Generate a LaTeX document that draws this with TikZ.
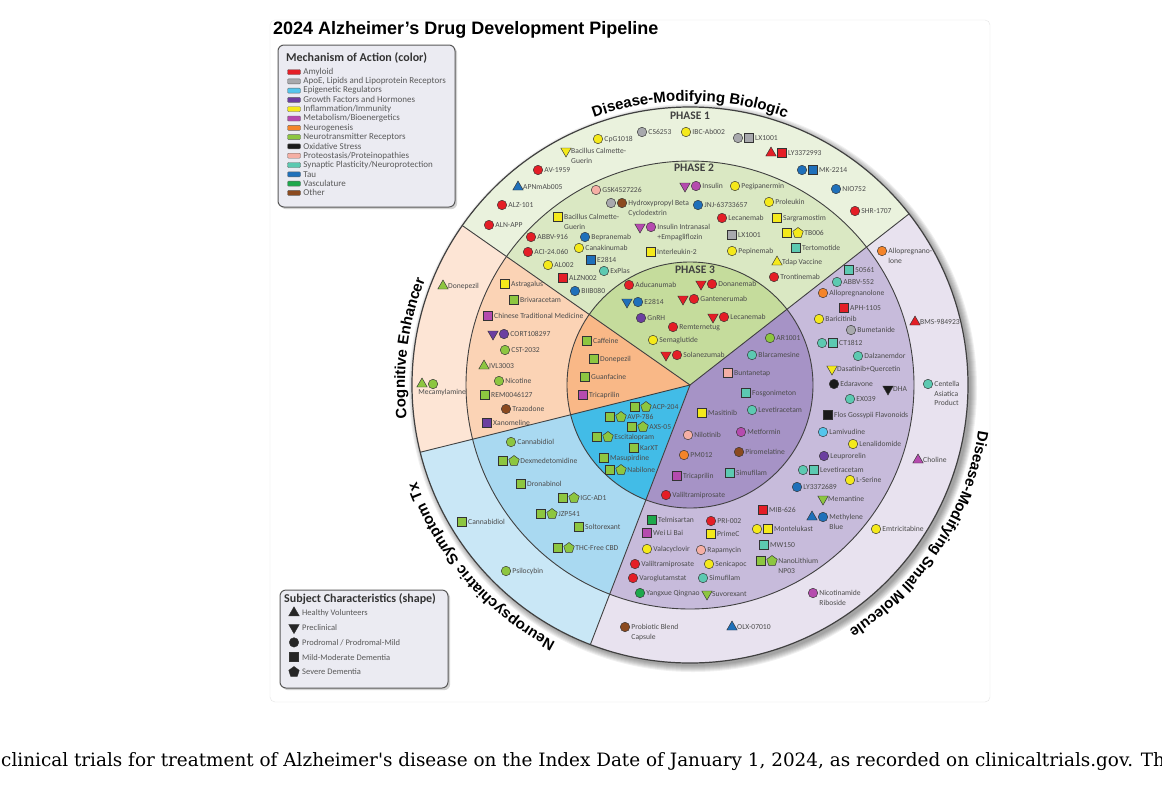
\documentclass[tikz,border=0pt]{standalone}
\usepackage{fontspec}
\setsansfont{Carlito}
\newfontfamily\headfont{Liberation Sans}
\newfontfamily\capfont{DejaVu Serif}
\usetikzlibrary{positioning,calc,shapes.geometric,shadows,decorations.text}

\definecolor{amy}{HTML}{E41E26}
\definecolor{apo}{HTML}{A8A9AD}
\definecolor{epi}{HTML}{54C5EC}
\definecolor{gro}{HTML}{6B3FA0}
\definecolor{inf}{HTML}{F4E91B}
\definecolor{met}{HTML}{B54BAE}
\definecolor{neu}{HTML}{F4842A}
\definecolor{ntr}{HTML}{8DC640}
\definecolor{oxi}{HTML}{1A1A1A}
\definecolor{pro}{HTML}{F5AFA5}
\definecolor{syn}{HTML}{5CC9B1}
\definecolor{tau}{HTML}{1F70BA}
\definecolor{vas}{HTML}{1EA84C}
\definecolor{oth}{HTML}{8B4A1F}
\definecolor{g1}{HTML}{C5DC9C}
\definecolor{g2}{HTML}{DAE8C3}
\definecolor{g3}{HTML}{EAF2DD}
\definecolor{o1}{HTML}{F9B887}
\definecolor{o2}{HTML}{FBD3B5}
\definecolor{o3}{HTML}{FDE5D5}
\definecolor{b1}{HTML}{42BCE7}
\definecolor{b2}{HTML}{A9D9F1}
\definecolor{b3}{HTML}{C9E7F6}
\definecolor{p1}{HTML}{A693C6}
\definecolor{p2}{HTML}{C7BBDB}
\definecolor{p3}{HTML}{E8E2EF}
\definecolor{legbg}{HTML}{EBEBF2}

\newcommand{\lblines}[1]{\begin{tabular}[t]{@{}l@{}}#1\end{tabular}}
\newcommand{\drug}[5]{%
  \foreach \mkshape/\mkcol [count=\idx] in {#4}{%
    \node[\mkshape=\mkcol] (#1-\idx) at (#2+11*\idx-11,#3) {};
    \xdef\lastmk{#1-\idx}}%
  \node[lab] (#1) at ([xshift=.8pt,yshift=-2.6pt]\lastmk.east) {#5};}

\begin{document}
\begin{tikzpicture}[
	x=1pt, y=-1pt,
	mk/.style={draw=black!80, line width=.45pt, inner sep=0pt, fill=#1},
	mdot/.style={mk=#1, circle, minimum size=9.5pt},
	mbox/.style={mk=#1, rectangle, minimum size=9pt},
	mup/.style={mk=#1, regular polygon, regular polygon sides=3, minimum size=12pt},
	mdown/.style={mup=#1, shape border rotate=180},
	mpent/.style={mk=#1, regular polygon, regular polygon sides=5, minimum size=11pt},
	lab/.style={anchor=base west, inner sep=.5pt, text=black!70, font=\sffamily\fontsize{7.6}{9.5}\selectfont},
	ringline/.style={draw=black!75, line width=.9pt},
	phase/.style={font=\sffamily\bfseries\fontsize{11.5}{12}\selectfont, text=black!75},
	legbox/.style={draw=black!65, line width=1pt, rounded corners=6pt, fill=legbg, drop shadow={opacity=.35}},
	legtitle/.style={anchor=west, inner sep=0pt, text=black!80, font=\sffamily\bfseries\fontsize{12}{14}\selectfont},
	legtxt/.style={anchor=west, inner sep=0pt, text=black!65, font=\sffamily\fontsize{9}{10}\selectfont},
	swatch/.style={draw=black!60, line width=.4pt, fill=#1, rounded corners=1pt, minimum width=13pt, minimum height=5pt, inner sep=0pt},
	arclabel/.style={decorate, decoration={text along path, text align=center, text={|\headfont\bfseries\fontsize{15}{17}\selectfont|#1}}}]
\useasboundingbox (0,0) rectangle (1162,788);
\clip (0,0) rectangle (1162,788);
\fill[white] (0,0) rectangle (1162,788);
\draw[gray!20, fill=white, rounded corners=5pt] (270,20) rectangle (990,702);

\node[anchor=west, inner sep=0pt, font=\headfont\bfseries\fontsize{18}{20}\selectfont] (title) at (273,30) {2024 Alzheimer’s Drug Development Pipeline};

\coordinate (c) at (690,385);
\foreach \i in {0,...,6}
	\fill[black, opacity=.06] ([xshift=3pt,yshift=-3pt]c) circle[radius=278+\i];
\foreach \a/\b/\co/\cm/\ci in {38/145/g3/g2/g1, 145/194/o3/o2/o1, 194/249/b3/b2/b1, 249/398/p3/p2/p1}{
	\fill[\co] (c) -- ++(-\a:278) arc[start angle=-\a, end angle=-\b, radius=278] -- cycle;
	\fill[\cm] (c) -- ++(-\a:224) arc[start angle=-\a, end angle=-\b, radius=224] -- cycle;
	\fill[\ci] (c) -- ++(-\a:123) arc[start angle=-\a, end angle=-\b, radius=123] -- cycle;
}
\draw[ringline] (c) circle[radius=123] (c) circle[radius=224];
\draw[ringline, line width=1.2pt] (c) circle[radius=278];
\foreach \a in {38,145,194,249}
	\draw[ringline] (c) -- ++(-\a:278);

\path[arclabel={Disease-Modifying Biologic}] ($(c)+(-125:284)$) arc[start angle=-125, end angle=-55, radius=284];
\path[arclabel={Cognitive Enhancer}] ($(c)+(-210:285)$) arc[start angle=-210, end angle=-135, radius=285];
\path[arclabel={Neuropsychiatric Symptom Tx}] ($(c)+(-265:290)$) arc[start angle=-265, end angle=-177, radius=290];
\path[arclabel={Disease-Modifying Small Molecule}] ($(c)+(-14:292)$) arc[start angle=-14, end angle=80, radius=292];

\node[phase] (ph1) at (690,116) {PHASE 1};
\node[phase] (ph2) at (694,168) {PHASE 2};
\node[phase] (ph3) at (695,270) {PHASE 3};

\drug{cpg}{598}{139}{mdot/inf}{CpG1018}
\drug{cs}{642}{132}{mdot/apo}{CS6253}
\drug{ibc}{686}{132}{mdot/inf}{IBC-Ab002}
\drug{lxa}{738}{138}{mdot/apo, mbox/apo}{LX1001}
\drug{lyb}{771}{153}{mup/amy, mbox/amy}{LY3372993}
\drug{mk}{802}{170}{mdot/tau, mbox/tau}{MK-2214}
\drug{nio}{836}{189}{mdot/tau}{NIO752}
\drug{shr}{855}{211}{mdot/amy}{SHR-1707}
\drug{bcga}{566}{151}{mdown/inf}{\lblines{Bacillus Calmette-\\Guerin}}
\drug{av}{538}{170}{mdot/amy}{AV-1959}
\drug{apn}{518}{187}{mup/tau}{APNmAb005}
\drug{alz}{502}{205}{mdot/amy}{ALZ-101}
\drug{aln}{489}{225}{mdot/amy}{ALN-APP}

\drug{gsk}{596}{190}{mdot/pro}{GSK4527226}
\drug{hpb}{611}{203}{mdot/apo, mdot/oth}{\lblines{Hydroxypropyl Beta\\Cyclodextrin}}
\drug{ins}{685}{186}{mdown/met, mdot/met}{Insulin}
\drug{pegi}{735}{186}{mdot/inf}{Pegipanermin}
\drug{jnj}{698}{205}{mdot/tau}{JNJ-63733657}
\drug{prol}{769}{202}{mdot/inf}{Proleukin}
\drug{leca}{722}{218}{mdot/amy}{Lecanemab}
\drug{sarg}{777}{218}{mbox/inf}{Sargramostim}
\drug{bcgb}{558}{217}{mbox/inf}{\lblines{Bacillus Calmette-\\Guerin}}
\drug{insin}{640}{227}{mdown/met, mdot/met}{\lblines{Insulin Intranasal\\+Empagliflozin}}
\drug{lxb}{732}{235}{mbox/apo}{LX1001}
\drug{tb}{787}{233}{mbox/inf, mpent/inf}{TB006}
\drug{abbva}{531}{237}{mdot/amy}{ABBV-916}
\drug{bepra}{585}{237}{mdot/tau}{Bepranemab}
\drug{terto}{796}{248}{mbox/syn}{Tertomotide}
\drug{cana}{579}{248}{mdot/inf}{Canakinumab}
\drug{aci}{528}{252}{mdot/amy}{ACI-24.060}
\drug{il}{651}{252}{mbox/inf}{Interleukin-2}
\drug{pepi}{732}{251}{mdot/inf}{Pepinemab}
\drug{tdap}{777}{262}{mup/inf}{Tdap Vaccine}
\drug{ea}{591}{260}{mbox/tau}{E2814}
\drug{al}{548}{265}{mdot/inf}{AL002}
\drug{explas}{604}{271}{mdot/syn}{ExPlas}
\drug{tron}{774}{277}{mdot/amy}{Trontinemab}
\drug{alzn}{563}{278}{mbox/amy}{ALZN002}
\drug{biib}{575}{291}{mdot/tau}{BIIB080}

\drug{adu}{629}{285}{mdot/amy}{Aducanumab}
\drug{dona}{701}{284}{mdown/amy, mdot/amy}{Donanemab}
\drug{eb}{627}{302}{mdown/tau, mdot/tau}{E2814}
\drug{gant}{683}{299}{mdown/amy, mdot/amy}{Gantenerumab}
\drug{gnrh}{641}{318}{mdot/gro}{GnRH}
\drug{lecb}{713}{317}{mdown/amy, mdot/amy}{Lecanemab}
\drug{remt}{673}{327}{mdot/amy}{Remternetug}
\drug{sema}{653}{340}{mdot/inf}{Semaglutide}
\drug{sola}{666}{355}{mdown/amy, mdot/amy}{Solanezumab}

\drug{donea}{443}{286}{mup/ntr}{Donepezil}
\node[mup=ntr] (mecam-1) at (422,384) {};
\node[mdot=ntr] (mecam-2) at (433,384) {};
\node[lab, below=1pt of mecam-1.south west, anchor=north west, xshift=-1pt] (mecam) {Mecamylamine};
\drug{astra}{505}{284}{mbox/inf}{Astragalus}
\drug{briv}{514}{300}{mbox/ntr}{Brivaracetam}
\drug{ctm}{488}{316}{mbox/met}{Chinese Traditional Medicine}
\drug{cort}{493}{334}{mdown/gro, mdot/gro}{CORT108297}
\drug{cst}{505}{350}{mdot/ntr}{CST-2032}
\drug{ivl}{484}{366}{mup/ntr}{IVL3003}
\drug{nico}{499}{381}{mdot/ntr}{Nicotine}
\drug{rem}{485}{395}{mbox/ntr}{REM0046127}
\drug{traz}{506}{409}{mdot/oth}{Trazodone}
\drug{xano}{487}{423}{mbox/gro}{Xanomeline}
\drug{caff}{587}{341}{mbox/ntr}{Caffeine}
\drug{doneb}{594}{359}{mbox/ntr}{Donepezil}
\drug{guan}{585}{377}{mbox/ntr}{Guanfacine}
\drug{trica}{583}{395}{mbox/met}{Tricaprilin}

\drug{acp}{635}{407}{mbox/ntr, mpent/ntr}{ACP-204}
\drug{avp}{610}{417}{mbox/ntr, mpent/ntr}{AVP-786}
\drug{axs}{632}{427}{mbox/ntr, mpent/ntr}{AXS-05}
\drug{esci}{597}{437}{mbox/ntr, mpent/ntr}{Escitalopram}
\drug{karxt}{634}{448}{mbox/ntr}{KarXT}
\drug{masu}{604}{458}{mbox/ntr}{Masupirdine}
\drug{nabi}{610}{470}{mbox/ntr, mpent/ntr}{Nabilone}
\drug{cbda}{511}{442}{mdot/ntr}{Cannabidiol}
\drug{dexm}{503}{461}{mbox/ntr, mpent/ntr}{Dexmedetomidine}
\drug{drona}{521}{484}{mbox/ntr}{Dronabinol}
\drug{igc}{563}{498}{mbox/ntr, mpent/ntr}{IGC-AD1}
\drug{jzp}{541}{514}{mbox/ntr, mpent/ntr}{JZP541}
\drug{solt}{579}{527}{mbox/ntr}{Soltorexant}
\drug{thc}{558}{548}{mbox/ntr, mpent/ntr}{THC-Free CBD}
\drug{cbdb}{462}{522}{mbox/ntr}{Cannabidiol}
\drug{psil}{506}{571}{mdot/ntr}{Psilocybin}

\drug{ar}{770}{338}{mdot/ntr}{AR1001}
\drug{blar}{752}{355}{mdot/syn}{Blarcamesine}
\drug{bunt}{728}{373}{mbox/pro}{Buntanetap}
\drug{fosg}{746}{393}{mbox/syn}{Fosgonimeton}
\drug{leva}{752}{410}{mdot/syn}{Levetiracetam}
\drug{masi}{702}{413}{mbox/inf}{Masitinib}
\drug{nilo}{688}{435}{mdot/pro}{Nilotinib}
\drug{metf}{741}{432}{mdot/met}{Metformin}
\drug{pm}{684}{455}{mdot/neu}{PM012}
\drug{piro}{739}{452}{mdot/oth}{Piromelatine}
\drug{tricb}{677}{476}{mbox/met}{Tricaprilin}
\drug{simua}{730}{473}{mbox/syn}{Simufilam}
\drug{valia}{666}{495}{mdot/amy}{Valiltramiprosate}

\drug{sfive}{849}{270}{mbox/syn}{50561}
\drug{abbvb}{837}{282}{mdot/syn}{ABBV-552}
\drug{alloa}{823}{293}{mdot/neu}{Allopregnanolone}
\drug{aph}{844}{308}{mbox/amy}{APH-1105}
\drug{bari}{819}{319}{mdot/inf}{Baricitinib}
\drug{bume}{851}{330}{mdot/apo}{Bumetanide}
\drug{ct}{822}{343}{mdot/syn, mbox/syn}{CT1812}
\drug{dalz}{858}{356}{mdot/syn}{Dalzanemdor}
\drug{dasa}{832}{369}{mdown/inf}{Dasatinib+Quercetin}
\drug{edar}{834}{384}{mdot/oxi}{Edaravone}
\drug{dha}{888}{389}{mdown/oxi}{DHA}
\drug{ex}{850}{399}{mdot/syn}{EX039}
\drug{flos}{828}{415}{mbox/oxi}{Flos Gossypii Flavonoids}
\drug{lami}{823}{432}{mdot/epi}{Lamivudine}
\drug{lena}{853}{444}{mdot/inf}{Lenalidomide}
\drug{leup}{824}{456}{mdot/gro}{Leuprorelin}
\drug{levb}{803}{470}{mdot/syn, mbox/syn}{Levetiracetam}
\drug{lser}{850}{480}{mdot/inf}{L-Serine}
\drug{lyc}{797}{487}{mdot/tau}{LY3372689}
\drug{mema}{823}{499}{mdown/ntr}{Memantine}
\drug{mblue}{812}{517}{mup/tau, mdot/tau}{\lblines{Methylene\\Blue}}
\drug{mib}{763}{510}{mbox/amy}{MIB-626}
\drug{mont}{757}{529}{mdot/inf, mbox/inf}{Montelukast}
\drug{mw}{764}{545}{mbox/syn}{MW150}
\drug{nano}{761}{561}{mbox/ntr, mpent/ntr}{\lblines{NanoLithium\\NP03}}
\drug{telm}{652}{520}{mbox/vas}{Telmisartan}
\drug{pri}{711}{521}{mdot/amy}{PRI-002}
\drug{wei}{647}{533}{mbox/met}{Wei Li Bai}
\drug{prim}{711}{534}{mbox/inf}{PrimeC}
\drug{vala}{647}{549}{mdot/inf}{Valacyclovir}
\drug{rapa}{701}{550}{mdot/pro}{Rapamycin}
\drug{valib}{635}{564}{mdot/amy}{Valiltramiprosate}
\drug{seni}{709}{564}{mdot/inf}{Senicapoc}
\drug{varo}{633}{578}{mdot/amy}{Varoglutamstat}
\drug{simub}{703}{578}{mdot/syn}{Simufilam}
\drug{yang}{640}{593}{mdot/vas}{Yangxue Qingnao}
\drug{suvo}{707}{594}{mdown/ntr}{Suvorexant}

\drug{allob}{882}{251}{mdot/neu}{\lblines{Allopregnano-\\lone}}
\drug{bms}{915}{322}{mup/amy}{BMS-984923}
\drug{cent}{928}{384}{mdot/syn}{\lblines{Centella\\Asiatica\\Product}}
\drug{chol}{918}{460}{mup/met}{Choline}
\drug{emtr}{876}{529}{mdot/inf}{Emtricitabine}
\drug{nr}{813}{593}{mdot/met}{\lblines{Nicotinamide\\Riboside}}
\drug{probi}{625}{627}{mdot/oth}{\lblines{Probiotic Blend\\Capsule}}
\drug{olx}{732}{627}{mup/tau}{OLX-07010}

\draw[legbox] (278,45) rectangle (455,207);
\node[legtitle] (moa) at (286,58) {Mechanism of Action (color)};
\foreach \mkcol/\txt [count=\idx] in {amy/Amyloid, apo/{ApoE, Lipids and Lipoprotein Receptors}, epi/Epigenetic Regulators, gro/Growth Factors and Hormones, inf/{Inflammation/Immunity}, met/{Metabolism/Bioenergetics}, neu/Neurogenesis, ntr/Neurotransmitter Receptors, oxi/Oxidative Stress, pro/{Proteostasis/Proteinopathies}, syn/{Synaptic Plasticity/Neuroprotection}, tau/Tau, vas/Vasculature, oth/Other}{
	\node[swatch=\mkcol] (sw\idx) at (294,62.7+9.3*\idx) {};
	\node[legtxt] (lg\idx) at ([xshift=2.5pt]sw\idx.east) {\txt};
}

\draw[legbox] (280,590) rectangle (448,688);
\node[legtitle] (subj) at (284,599) {Subject Characteristics (shape)};
\foreach \mkshape/\txt [count=\idx] in {mup/Healthy Volunteers, mdown/Preclinical, mdot/{Prodromal / Prodromal-Mild}, mbox/Mild-Moderate Dementia, mpent/Severe Dementia}{
	\node[\mkshape=black!85] (sc\idx) at (294,598+14.8*\idx) {};
	\node[legtxt, font=\sffamily\fontsize{8.5}{10}\selectfont] (st\idx) at (302,598+14.8*\idx) {\txt};
}

\node[anchor=base west, inner sep=0pt, font=\capfont\fontsize{18.4}{22}\selectfont] (caption) at (1,766) {clinical trials for treatment of Alzheimer's disease on the Index Date of January 1, 2024, as recorded on clinicaltrials.gov. Th};
\end{tikzpicture}
\end{document}
